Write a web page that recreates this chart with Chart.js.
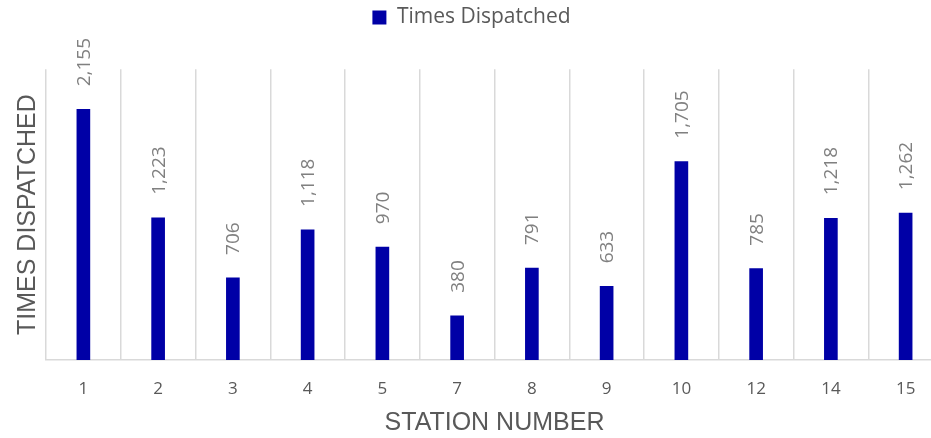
<!DOCTYPE html>
<html>
<head>
<meta charset="utf-8">
<script src="https://cdn.jsdelivr.net/npm/chart.js@4.4.1/dist/chart.umd.min.js"></script>
<style>
  html, body { margin: 0; padding: 0; overflow: hidden; background: #fff; }
  #wrap { width: 945px; height: 438px; }
</style>
</head>
<body>
<div id="wrap"><canvas id="chart"></canvas></div>
<script>
//chart data
const stations = ["1", "2", "3", "4", "5", "7", "8", "9", "10", "12", "14", "15"];
const timesDispatched = [2155, 1223, 706, 1118, 970, 380, 791, 633, 1705, 785, 1218, 1262];

const barColor = "#0000a6";
const textGray = "#595959";
const gridGray = "#d9d9d9";

//rotated value labels above each bar
const barLabels = {
    id: "barLabels",
    afterDatasetsDraw(chart) {
        const ctx = chart.ctx;
        const meta = chart.getDatasetMeta(0);
        ctx.save();
        ctx.font = "19px 'Open Sans', sans-serif";
        ctx.fillStyle = "#808080";
        ctx.textAlign = "left";
        ctx.textBaseline = "middle";
        meta.data.forEach((bar, i) => {
            ctx.save();
            ctx.translate(bar.x + 1, bar.y - 23);
            ctx.rotate(-Math.PI / 2);
            ctx.fillText(timesDispatched[i].toLocaleString("en-US"), 0, 0);
            ctx.restore();
        });
        ctx.restore();
    }
};

new Chart(document.getElementById("chart"), {
    type: "bar",
    data: {
        labels: stations,
        datasets: [{
            label: "Times Dispatched",
            data: timesDispatched,
            backgroundColor: barColor,
            borderWidth: 0,
            barThickness: 13
        }]
    },
    options: {
        responsive: true,
        maintainAspectRatio: false,
        animation: false,
        layout: { padding: { top: 0, right: 2, left: 0, bottom: 0 } },
        plugins: {
            legend: {
                position: "top",
                labels: {
                    boxWidth: 14,
                    boxHeight: 14,
                    padding: 7,
                    color: textGray,
                    font: { family: "'Open Sans', sans-serif", size: 21 }
                }
            },
            //empty subtitle used as a spacer between legend and plot
            subtitle: {
                display: true,
                text: "",
                weight: 500,
                font: { size: 1 },
                padding: { top: 30, bottom: 0 }
            },
            tooltip: { enabled: false }
        },
        scales: {
            x: {
                grid: { color: gridGray, lineWidth: 1.5, offset: true, drawTicks: false },
                border: { color: gridGray, width: 1.5 },
                ticks: {
                    color: textGray,
                    padding: 19,
                    font: { family: "'Open Sans', sans-serif", size: 17 }
                },
                title: {
                    display: true,
                    text: "STATION NUMBER",
                    color: textGray,
                    padding: 0,
                    font: { family: "'Liberation Sans', Arial, sans-serif", size: 25 }
                },
                afterFit(scale) { scale.height = 78; }
            },
            y: {
                min: 0,
                max: 2500,
                grid: { display: false },
                border: { display: false },
                ticks: { display: false },
                title: {
                    display: true,
                    text: "TIMES DISPATCHED",
                    color: textGray,
                    padding: 13,
                    font: { family: "'Liberation Sans', Arial, sans-serif", size: 25 }
                },
                afterFit(scale) { scale.width = 46; }
            }
        }
    },
    plugins: [barLabels]
});
</script>
</body>
</html>
